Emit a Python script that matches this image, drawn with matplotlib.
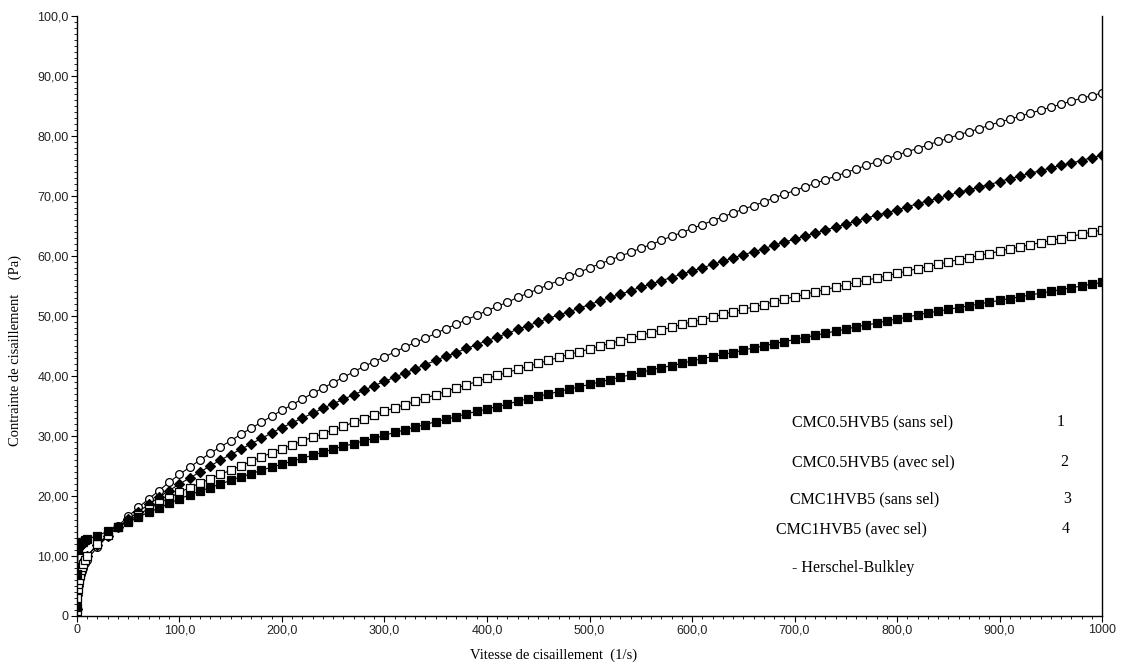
import matplotlib
matplotlib.use("Agg")
import matplotlib.pyplot as plt
from matplotlib.ticker import FixedLocator, MultipleLocator

# shear rate (1/s), shared by all four series
shear = [0, 0.5, 1, 1.5, 2, 3, 4, 5, 6, 8] + list(range(10, 1001, 10))

# shear stress (Pa)
cmc05_sans = [
    1.0, 2.8, 4.0, 4.8, 5.5, 6.3, 7.0, 7.5, 8.0, 8.8,
    9.4, 11.5, 13.3, 15.0, 16.6, 18.1, 19.5, 20.9, 22.3, 23.6,
    24.8, 26.0, 27.1, 28.2, 29.2, 30.3, 31.3, 32.3, 33.3, 34.3,
    35.2, 36.2, 37.1, 38.0, 38.9, 39.8, 40.7, 41.6, 42.4, 43.2,
    44.0, 44.8, 45.6, 46.3, 47.1, 47.9, 48.6, 49.4, 50.1, 50.9,
    51.6, 52.3, 53.1, 53.8, 54.5, 55.2, 55.9, 56.6, 57.3, 58.0,
    58.7, 59.3, 60.0, 60.6, 61.3, 61.9, 62.6, 63.3, 63.9, 64.6,
    65.2, 65.9, 66.5, 67.2, 67.8, 68.4, 69.0, 69.7, 70.3, 70.9,
    71.5, 72.1, 72.7, 73.3, 73.9, 74.5, 75.1, 75.7, 76.2, 76.8,
    77.4, 77.9, 78.5, 79.1, 79.6, 80.2, 80.7, 81.2, 81.8, 82.3,
    82.8, 83.3, 83.8, 84.3, 84.8, 85.3, 85.8, 86.3, 86.7, 87.2,
]
cmc05_avec = [
    1.2, 3.5, 5.0, 5.8, 6.5, 7.3, 8.0, 8.4, 8.8, 9.5,
    10.0, 11.8, 13.4, 14.8, 16.1, 17.4, 18.6, 19.8, 20.9, 22.0,
    23.0, 24.0, 25.0, 26.0, 26.9, 27.8, 28.7, 29.6, 30.5, 31.4,
    32.2, 33.0, 33.8, 34.6, 35.4, 36.1, 36.9, 37.6, 38.4, 39.1,
    39.8, 40.5, 41.2, 41.9, 42.6, 43.3, 43.9, 44.6, 45.2, 45.9,
    46.5, 47.1, 47.8, 48.4, 49.0, 49.6, 50.2, 50.7, 51.3, 51.9,
    52.5, 53.1, 53.6, 54.2, 54.8, 55.3, 55.9, 56.4, 57.0, 57.5,
    58.0, 58.6, 59.1, 59.7, 60.2, 60.7, 61.2, 61.8, 62.3, 62.8,
    63.3, 63.8, 64.3, 64.8, 65.3, 65.8, 66.3, 66.8, 67.2, 67.7,
    68.2, 68.7, 69.2, 69.6, 70.1, 70.6, 71.0, 71.5, 71.9, 72.4,
    72.9, 73.3, 73.8, 74.2, 74.7, 75.1, 75.5, 75.9, 76.4, 76.8,
]
cmc1_sans = [
    0.8, 3.0, 4.5, 5.3, 6.0, 6.9, 7.6, 8.1, 8.6, 9.4,
    10.0, 12.0, 13.5, 14.8, 15.9, 16.9, 17.9, 18.8, 19.7, 20.6,
    21.4, 22.1, 22.9, 23.6, 24.3, 25.0, 25.8, 26.5, 27.2, 27.9,
    28.5, 29.2, 29.8, 30.4, 31.0, 31.6, 32.3, 32.9, 33.5, 34.1,
    34.7, 35.2, 35.8, 36.3, 36.9, 37.4, 38.0, 38.5, 39.1, 39.6,
    40.1, 40.6, 41.1, 41.6, 42.1, 42.6, 43.1, 43.6, 44.0, 44.5,
    45.0, 45.4, 45.9, 46.3, 46.8, 47.2, 47.7, 48.1, 48.6, 49.0,
    49.4, 49.8, 50.3, 50.7, 51.1, 51.5, 51.9, 52.4, 52.8, 53.2,
    53.6, 54.0, 54.4, 54.8, 55.2, 55.6, 56.0, 56.3, 56.7, 57.1,
    57.5, 57.9, 58.2, 58.6, 59.0, 59.4, 59.7, 60.1, 60.4, 60.8,
    61.2, 61.5, 61.9, 62.2, 62.6, 62.9, 63.3, 63.6, 64.0, 64.3,
]
cmc1_avec = [
    1.5, 7.0, 11.0, 11.5, 11.8, 12.0, 12.2, 12.3, 12.4, 12.6,
    12.8, 13.4, 14.1, 14.9, 15.7, 16.5, 17.3, 18.0, 18.8, 19.5,
    20.2, 20.8, 21.4, 22.0, 22.6, 23.2, 23.7, 24.3, 24.8, 25.3,
    25.8, 26.3, 26.8, 27.3, 27.8, 28.3, 28.7, 29.2, 29.6, 30.1,
    30.6, 31.0, 31.5, 31.9, 32.4, 32.8, 33.2, 33.7, 34.1, 34.5,
    34.9, 35.3, 35.8, 36.2, 36.6, 37.0, 37.4, 37.8, 38.2, 38.6,
    39.0, 39.4, 39.8, 40.2, 40.6, 41.0, 41.4, 41.7, 42.1, 42.5,
    42.9, 43.2, 43.6, 43.9, 44.3, 44.7, 45.0, 45.4, 45.7, 46.1,
    46.4, 46.8, 47.1, 47.5, 47.8, 48.2, 48.5, 48.8, 49.2, 49.5,
    49.8, 50.2, 50.5, 50.8, 51.1, 51.4, 51.7, 52.0, 52.3, 52.6,
    52.9, 53.2, 53.5, 53.8, 54.1, 54.4, 54.7, 55.0, 55.3, 55.6,
]

y_ticks = [0, 10, 20, 30, 40, 50, 60, 70, 80, 90, 100]
y_labels = ["0", "10,00", "20,00", "30,00", "40,00", "50,00",
            "60,00", "70,00", "80,00", "90,00", "100,0"]
x_ticks = [0, 100, 200, 300, 400, 500, 600, 700, 800, 900, 1000]
x_labels = ["0", "100,0", "200,0", "300,0", "400,0", "500,0",
            "600,0", "700,0", "800,0", "900,0", "1000"]

legend_rows = [
    ("CMC0.5HVB5 (sans sel)", "1"),
    ("CMC0.5HVB5 (avec sel)", "2"),
    ("CMC1HVB5 (sans sel)", "3"),
    ("CMC1HVB5 (avec sel)", "4"),
]

SERIF = "Liberation Serif"
SANS = "Liberation Sans"
W, H = 1125, 666

fig = plt.figure(figsize=(11.25, 6.66), dpi=100)
ax = fig.add_axes([0.0684, 0.0751, 0.9112, 0.9009])

styles = [
    (cmc05_sans, dict(marker="o", mfc="white", mec="black")),
    (cmc05_avec, dict(marker="D", mfc="black", mec="black", markersize=5.0)),
    (cmc1_sans, dict(marker="s", mfc="white", mec="black")),
    (cmc1_avec, dict(marker="s", mfc="black", mec="black")),
]
for ys, st in styles:
    kw = dict(color="black", lw=0.8, markersize=5.6, mew=0.9)
    kw.update(st)
    ax.plot(shear, ys, **kw)

ax.set_xlim(0, 1000)
ax.set_ylim(0, 100)
ax.spines["top"].set_visible(False)
for s in ("left", "bottom", "right"):
    ax.spines[s].set_linewidth(1.0)

ax.xaxis.set_major_locator(FixedLocator(x_ticks))
ax.set_xticklabels(x_labels, fontfamily=SANS, fontsize=9, color="#222222")
ax.xaxis.set_minor_locator(MultipleLocator(10))
ax.yaxis.set_major_locator(FixedLocator(y_ticks))
ax.set_yticklabels(y_labels, fontfamily=SANS, fontsize=9, color="#222222")
ax.yaxis.set_minor_locator(MultipleLocator(1))
ax.tick_params(which="major", direction="out", length=4, width=0.8, pad=2)
ax.tick_params(which="minor", direction="out", length=2, width=0.6)
ax.tick_params(axis="y", which="both", right=False)

# axis titles placed where the reference has them
fig.text(554 / W, 1 - 655 / H, "Vitesse de cisaillement  (1/s)",
         fontfamily=SERIF, fontsize=10.5, ha="center", va="center")
fig.text(15 / W, 1 - 351 / H, "Contrainte de cisaillement    (Pa)",
         fontfamily=SERIF, fontsize=10.5, ha="center", va="center", rotation=90)

# annotation block (text legend), figure pixel coords
lx = [792, 792, 790, 776]
ly = [422, 462, 499, 529]
nx = [1057, 1060, 1063, 1062]
for (name, num), x0, y0, x1 in zip(legend_rows, lx, ly, nx):
    fig.text(x0 / W, 1 - y0 / H, name, fontfamily=SERIF, fontsize=11.5, va="center")
    fig.text(x1 / W, 1 - y0 / H, num, fontfamily=SERIF, fontsize=11.5, va="center")
fig.text(792 / W, 1 - 568 / H, "- Herschel-Bulkley", fontfamily=SERIF, fontsize=11.5, va="center")

fig.savefig("out.png", dpi=100)
